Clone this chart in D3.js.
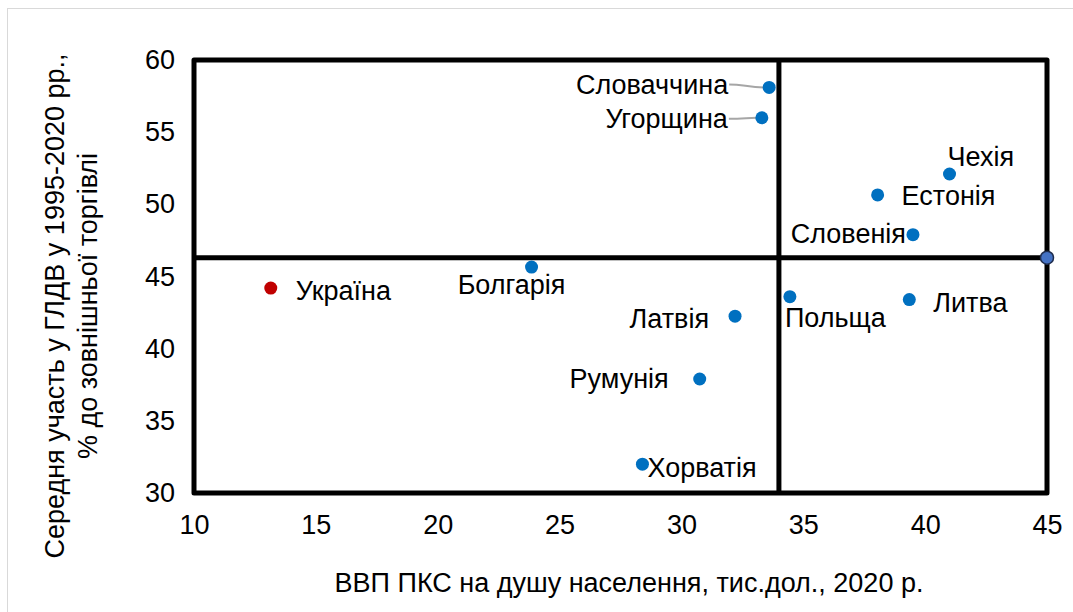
<!DOCTYPE html>
<html>
<head>
<meta charset="utf-8">
<script src="https://cdn.jsdelivr.net/npm/d3@7"></script>
<style>
  html, body { margin: 0; padding: 0; background: #fff; }
  svg { display: block; font-family: "Liberation Sans", Arial, sans-serif; }
</style>
</head>
<body>
<svg id="chart" width="1073" height="612"></svg>
<script>
// ---- data ----
const countries = ["Україна", "Болгарія", "Латвія", "Румунія", "Хорватія", "Словаччина", "Угорщина", "Чехія", "Естонія", "Словенія", "Польща", "Литва"];
const gdpPpp =    [13.15, 23.85, 32.2, 30.75, 28.4, 33.6, 33.3, 41.0, 38.05, 39.5, 34.45, 39.35];
const gvcShare =  [44.2, 45.65, 42.25, 37.9, 32.0, 58.1, 56.0, 52.1, 50.65, 47.9, 43.6, 43.4];
const avgGdp = 34.0;
const avgGvc = 46.3;
const xTicks = [10, 15, 20, 25, 30, 35, 40, 45];
const yTicks = [30, 35, 40, 45, 50, 55, 60];
const xTitle = "ВВП ПКС на душу населення, тис.дол., 2020 р.";
const yTitle = ["Середня участь у ГЛДВ у 1995-2020 рр.,", "% до зовнішньої торгівлі"];

// label placement (pixel offsets from point; anchor)
const labelPos = [
  {dx: 25, dy: 3, anchor: "start"},
  {dx: -20, dy: 17, anchor: "middle"},
  {dx: -26, dy: 2, anchor: "end"},
  {dx: -31, dy: 0, anchor: "end"},
  {dx: 5, dy: 3, anchor: "start"},
  {dx: -41, dy: -3, anchor: "end", leader: true},
  {dx: -34, dy: 1, anchor: "end", leader: true},
  {dx: -2, dy: -17, anchor: "start"},
  {dx: 24, dy: 1, anchor: "start"},
  {dx: -7, dy: -1, anchor: "end"},
  {dx: -5, dy: 21, anchor: "start"},
  {dx: 24, dy: 3, anchor: "start"}
];

const svg = d3.select("#chart");
const x = d3.scaleLinear().domain([10, 45]).range([194, 1047]);
const y = d3.scaleLinear().domain([30, 60]).range([493, 60]);

// outer border
svg.append("rect").attr("x", 7.5).attr("y", 8.5).attr("width", 1100).attr("height", 700)
  .attr("fill", "none").attr("stroke", "#d9d9d9").attr("stroke-width", 1);

const fs = 27;

// axes (labels only)
const xAxis = svg.append("g").attr("transform", `translate(0,${y(30)})`)
  .call(d3.axisBottom(x).tickValues(xTicks).tickSize(0).tickPadding(22).tickFormat(d3.format("d")));
const yAxis = svg.append("g").attr("transform", `translate(${x(10)},0)`)
  .call(d3.axisLeft(y).tickValues(yTicks).tickSize(0).tickPadding(19).tickFormat(d3.format("d")));
[xAxis, yAxis].forEach(a => {
  a.select(".domain").remove();
  a.selectAll("text").attr("font-size", fs).attr("fill", "#000").attr("font-family", "Liberation Sans, Arial, sans-serif");
});

// average lines
svg.append("line").attr("x1", x(avgGdp)).attr("x2", x(avgGdp)).attr("y1", y(60)).attr("y2", y(30))
  .attr("stroke", "#000").attr("stroke-width", 5);
svg.append("line").attr("x1", x(10)).attr("x2", x(45)).attr("y1", y(avgGvc)).attr("y2", y(avgGvc))
  .attr("stroke", "#000").attr("stroke-width", 5);

// frame
svg.append("rect").attr("x", x(10)).attr("y", y(60)).attr("width", x(45) - x(10)).attr("height", y(30) - y(60))
  .attr("fill", "none").attr("stroke", "#000").attr("stroke-width", 5).attr("stroke-linejoin", "round");

// marker at intersection of average line with right border
svg.append("circle").attr("cx", x(45)).attr("cy", y(avgGvc)).attr("r", 6.5)
  .attr("fill", "#4472C4").attr("stroke", "#1f2d4d").attr("stroke-width", 1.5);

// leader lines
countries.forEach((c, i) => {
  const lp = labelPos[i];
  if (!lp.leader) return;
  const px = x(gdpPpp[i]), py = y(gvcShare[i]);
  const tx = px + lp.dx, ty = py + lp.dy;
  const path = d3.path();
  path.moveTo(tx + 1, ty);
  path.bezierCurveTo(tx + 15, ty, tx + 20, py, px - 5, py);
  svg.append("path").attr("d", path.toString()).attr("fill", "none")
    .attr("stroke", "#a6a6a6").attr("stroke-width", 2);
});

// points
svg.selectAll("circle.pt").data(countries).enter().append("circle")
  .attr("class", "pt")
  .attr("cx", (d, i) => x(gdpPpp[i]))
  .attr("cy", (d, i) => y(gvcShare[i]))
  .attr("r", 6.5)
  .attr("fill", (d, i) => i === 0 ? "#C00000" : "#0070C0");

// labels
svg.selectAll("text.lbl").data(countries).enter().append("text")
  .attr("class", "lbl")
  .attr("x", (d, i) => x(gdpPpp[i]) + labelPos[i].dx)
  .attr("y", (d, i) => y(gvcShare[i]) + labelPos[i].dy)
  .attr("dy", "0.35em")
  .attr("text-anchor", (d, i) => labelPos[i].anchor)
  .attr("font-size", fs)
  .attr("fill", "#000")
  .text(d => d);

// axis titles
svg.append("text").attr("x", 629).attr("y", 583).attr("dy", "0.35em").attr("text-anchor", "middle")
  .attr("font-size", fs).attr("fill", "#000").text(xTitle);
const yt = svg.append("text").attr("transform", "translate(0,306) rotate(-90)")
  .attr("text-anchor", "middle").attr("font-size", fs).attr("fill", "#000");
yt.append("tspan").attr("x", 0).attr("y", 55).attr("dy", "0.35em").text(yTitle[0]);
yt.append("tspan").attr("x", 0).attr("y", 88).attr("dy", "0.35em").text(yTitle[1]);
</script>
</body>
</html>
